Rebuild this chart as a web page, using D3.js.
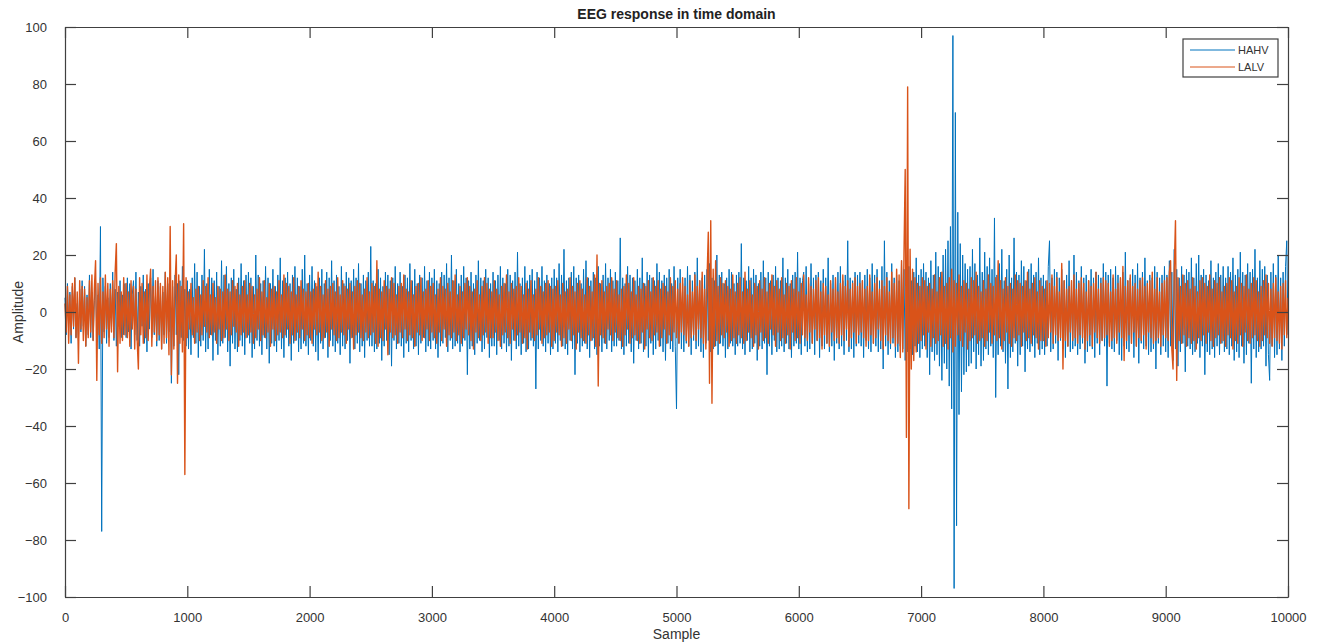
<!DOCTYPE html>
<html lang="en">
<head>
<meta charset="UTF-8">
<title>EEG response in time domain</title>
<script src="https://d3js.org/d3.v7.min.js"></script>
<style>
  body { margin: 0; background: #fff; }
  svg text { font-family: "Liberation Sans", Arial, sans-serif; fill: #333; }
</style>
</head>
<body>
<svg width="1320" height="644"></svg>
<script>
// one value every 10 samples (rows of 500 samples)
const sampleStep = 10

const hahv = [
  5, -8, 10, -4, 7, -11, 9, -6, 12, -9, 3, -10, 8, -7, 11, -5, 9, -12, 6, -8, 13, -9, 7, -10, 4, 11, -8, 6, -13, 30, -77, 12, -7, 9, -11, 5, -9, 10, -6, 14, -10, 8, -12, 7, -5, 11, -9, 6, -8, 10,
  -9, 12, -7, 10, -13, 6, 11, -8, 14, -10, 7, -12, 9, -5, 13, -11, 8, -14, 10, -6, 12, -9, 15, -8, 6, -12, 11, -10, 9, -13, 7, -8, 14, -11, 10, -7, 12, -25, 9, -12, 13, -8, 10, -22, 11, -9, 16, -10, 8, -12,
  11, -13, 8, -15, 12, -9, 17, -11, 14, -16, 9, -12, 13, -10, 22, -14, 10, -13, 15, -8, 12, -17, 11, -10, 14, -15, 9, -12, 18, -11, 13, -9, 16, -14, 10, -19, 12, -11, 15, -13, 8, -14, 12, -10, 17, -12, 11, -15, 13, -9,
  14, -11, 12, -16, 9, -13, 20, -10, 13, -12, 10, -15, 11, -9, 16, -13, 12, -18, 10, -11, 15, -12, 9, -14, 13, -10, 19, -13, 11, -16, 12, -9, 14, -12, 10, -17, 13, -11, 16, -10, 12, -14, 9, -13, 15, -11, 20, -12, 10, -15,
  13, -10, 16, -12, 11, -14, 9, -17, 12, -11, 15, -13, 10, -9, 14, -16, 12, -10, 18, -12, 11, -14, 13, -11, 9, -15, 16, -12, 10, -13, 14, -10, 12, -18, 11, -9, 15, -13, 12, -11, 17, -14, 10, -12, 13, -16, 11, -10, 14, -12,
  23, -12, 11, -14, 10, -13, 15, -11, 12, -17, 9, -12, 14, -10, 13, -15, 11, -19, 12, -10, 16, -13, 10, -11, 14, -12, 9, -16, 13, -11, 12, -14, 17, -10, 11, -13, 15, -12, 10, -15, 13, -11, 12, -9, 16, -14, 11, -12, 14, -13,
  12, -10, 15, -13, 11, -16, 10, -12, 14, -11, 13, -9, 17, -14, 12, -10, 20, -13, 11, -12, 15, -11, 10, -14, 13, -12, 16, -10, 12, -22, 11, -13, 14, -12, 10, -15, 13, -11, 18, -10, 12, -14, 11, -13, 15, -9, 12, -16, 10, -12,
  14, -12, 11, -15, 13, -10, 16, -13, 12, -11, 10, -14, 15, -12, 13, -17, 11, -10, 14, -13, 21, -12, 10, -15, 12, -11, 16, -14, 11, -13, 13, -10, 15, -12, 11, -27, 14, -13, 12, -10, 16, -12, 11, -14, 13, -11, 10, -15, 12, -13,
  15, -11, 12, -14, 17, -10, 13, -12, 22, -13, 11, -15, 12, -10, 14, -13, 16, -22, 12, -11, 13, -14, 10, -12, 15, -11, 18, -13, 12, -16, 11, -10, 14, -13, 12, -15, 16, -12, 10, -14, 13, -11, 17, -13, 12, -10, 15, -14, 11, -12,
  14, -12, 11, -10, 26, -13, 12, -15, 10, -12, 16, -11, 13, -14, 12, -18, 11, -10, 15, -13, 12, -11, 19, -14, 10, -12, 14, -16, 13, -11, 12, -15, 11, -13, 17, -10, 14, -12, 11, -14, 13, -17, 12, -11, 15, -13, 10, -14, 16, -12,
  -34, 12, -11, 15, -13, 10, -14, 12, -11, 16, -12, 13, -15, 11, -10, 14, -13, 19, -12, 11, -14, 12, -16, 13, -11, 15, -10, 17, -14, 12, -13, 11, -12, 20, -15, 13, -11, 14, -12, 10, -16, 12, -13, 15, -11, 14, -12, 10, -15, 13,
  -12, 14, -11, 24, -13, 12, -15, 11, -10, 16, -14, 12, -13, 15, -11, 13, -17, 10, -12, 14, -13, 18, -11, 12, -22, 14, -12, 11, -15, 13, -10, 16, -14, 12, -13, 11, -12, 19, -14, 12, -11, 15, -13, 10, -16, 13, -12, 14, -11, 21,
  -13, 12, -15, 11, 14, -12, 16, -14, 10, -13, 17, -11, 12, -15, 13, -10, 14, -16, 11, -12, 15, -13, 12, -11, 19, -14, 10, -12, 13, -17, 12, -11, 14, -13, 16, -12, 11, -15, 13, -10, 25, -14, 12, -13, 11, -16, 14, -12, 13, -11,
  14, -12, 11, -16, 13, -10, 15, -13, 12, -14, 17, -11, 13, -12, 15, -14, 11, -13, 16, -20, 25, -12, 14, -15, 11, -13, 17, -11, 12, -16, 13, -14, 11, -12, 18, -13, 15, -17, 12, -14, 16, -13, 11, -15, 14, -12, 19, -14, 13, -16,
  15, -13, 17, -12, 14, -16, 12, -22, 18, -14, 13, -17, 21, -15, 16, -19, 14, -24, 20, -18, 22, -20, 25, -26, 30, -34, 97, -97, 70, -75, 35, -36, 24, -28, 20, -22, 17, -21, 15, -19, 16, -18, 22, -14, 17, -20, 13, -15, 26, -19,
  14, -17, 21, -13, 16, -15, 19, -12, 15, -16, 33, -30, 13, -15, 17, -12, 22, -14, 11, -18, 15, -27, 20, -16, 12, -14, 26, -11, 14, -19, 13, -15, 18, -12, 16, -21, 11, -13, 15, -14, 17, -12, 13, -16, 14, -11, 19, -15, 12, -13,
  13, -15, 11, -12, 16, 25, -14, 12, -13, 15, -11, 14, -17, 12, -10, 15, -13, 11, -16, 13, -12, 18, -14, 11, -13, 20, -12, 14, -15, 11, -13, 16, -11, 12, -18, 13, -14, 11, -12, 15, -13, 12, -16, 14, -11, 13, -15, 12, -10, 17,
  -12, 14, -26, 13, -11, 15, -13, 12, -14, 16, -10, 13, -15, 11, -17, 14, -12, 21, -13, 11, -14, 12, -11, 15, -16, 13, -12, 17, -18, 12, -11, 14, -13, 19, -12, 11, -15, 13, -14, 12, -13, 16, -20, 14, -11, 12, -15, 13, -12, 16,
  -14, 13, -16, 18, -12, 14, -17, 22, -13, 15, -19, 12, -14, 16, -11, 13, -21, 15, -12, 14, -13, 19, -15, 12, -14, 17, -11, 20, -16, 13, -12, 15, -22, 13, -14, 11, -15, 18, -13, 12, -16, 14, -12, 17, -15, 13, -11, 16, -14, 12,
  -13, 16, -15, 14, -12, 19, -17, 13, -14, 15, -16, 21, -12, 14, -18, 13, -15, 17, -11, 14, -25, 15, -13, 22, -16, 12, -14, 18, -13, 15, -12, 16, -19, 13, -15, -24, 14, -12, 17, -16, 13, -15, 20, -13, 12, -17, 14, -12, 16, 25,
  -8
]

const lalv = [
  3, -7, 9, -11, 6, -8, 10, -5, 12, -9, 7, -18, 11, -6, 9, -10, 8, -12, 5, -9, 11, -7, 13, -10, 8, 18, -24, 10, -8, 12, -11, 7, -9, 13, -6, 10, -12, 8, -7, 11, -9, 14, 24, -21, 9, -11, 7, -10, 12, -8,
  10, -9, 7, -12, 11, -6, 9, -13, 8, -10, -20, 12, -8, 10, -11, 7, -9, 13, -10, 8, 15, -12, 9, -7, 11, -10, 12, -8, 10, -13, 9, -11, 14, -9, 12, -15, 30, -22, 11, -13, 10, 20, -25, 13, -11, 9, -14, 31, -57, 12,
  -9, 7, -6, 10, -8, 5, -11, 8, -7, 9, -10, 6, -8, 11, -5, 9, -7, 12, -9, 6, -8, 10, -7, 5, -11, 9, -6, 8, -10, 7, -9, 13, -6, 8, -10, 7, -8, 11, -5, 9, -7, 10, -12, 6, -8, 9, -7, 11, -9, 6,
  -8, 10, -7, 9, -11, 6, -9, 8, -6, 12, -10, 7, -8, 11, -9, 5, -7, 10, -12, 8, -6, 9, -10, 7, -8, 11, -7, 6, -9, 13, -8, 10, -6, 9, -11, 7, -8, 12, -10, 6, -7, 9, -9, 11, -6, 8, -10, 7, -8, 10,
  -9, 7, -11, 8, -6, 10, -8, 14, -7, 9, -10, 6, -9, 11, -7, 8, -12, 9, -6, 10, -8, 7, -10, 12, -9, 6, -7, 11, -8, 9, -11, 8, -6, 10, -9, 7, -13, 9, -8, 11, -7, 10, -9, 6, -10, 8, -7, 12, -9, 7,
  -8, 10, -7, 9, -11, 18, -12, 8, -9, 7, -10, 11, -6, 9, -15, 8, -7, 12, -9, 10, -8, 6, -11, 9, -7, 10, -9, 13, -6, 8, -10, 7, -8, 11, -9, 6, -12, 9, -7, 10, -8, 12, -10, 7, -9, 8, -6, 11, -10, 9,
  -7, 10, -9, 6, -11, 8, -7, 12, -10, 9, -6, 8, -12, 10, -8, 7, -9, 11, -7, 13, -10, 6, -8, 9, -11, 7, -9, 10, -6, 12, -8, 9, -10, 7, -13, 8, -7, 11, -9, 6, -10, 9, -8, 12, -7, 10, -11, 8, -9, 7,
  -9, 11, -7, 8, -10, 6, -12, 9, -8, 10, -7, 13, -9, 7, -11, 10, -6, 8, -10, 9, -8, 12, -7, 9, -11, 6, -9, 10, -13, 8, -7, 11, -9, 6, -10, 8, -8, 12, -6, 9, -11, 7, -9, 10, -8, 11, -7, 9, -12, 8,
  -10, 9, -7, 11, -8, 6, -12, 10, -9, 7, -11, 8, -6, 12, -10, 9, -8, 7, -13, 10, -7, 11, -9, 8, -10, 6, -11, 12, -8, 9, -10, 7, -9, 13, -12, 20, -26, 10, -8, 11, -9, 7, -11, 9, -6, 10, -8, 12, -10, 8,
  -7, 11, -9, 6, -10, 8, -12, 9, -8, 13, -6, 10, -11, 7, -9, 12, -8, 6, -10, 9, -11, 8, -7, 10, -13, 9, -6, 11, -9, 7, -10, 12, -8, 9, -7, 11, -12, 8, -9, 10, -6, 9, -11, 7, -8, 12, -10, 9, -7, 11,
  -9, 8, -11, 10, -7, 12, -8, 9, -10, 6, -12, 11, -9, 7, -8, 13, -10, 9, -6, 11, -9, 14, -11, 8, -13, 12, 28, -25, 32, -32, 15, -12, 18, -10, 9, -11, 12, -8, 10, -9, 11, -7, 9, -12, 8, -10, 13, -9, 7, -11,
  10, -8, 12, -9, 7, -11, 14, -10, 8, -7, 11, -9, 6, -12, 10, -8, 9, -13, 11, -7, 8, -10, 12, -9, 7, -11, 10, -6, 13, -8, 9, -12, 11, -7, 8, -10, 12, -9, 6, -11, 10, -8, 9, -13, 11, -7, 8, -10, 12, -9,
  7, -11, 10, -8, 13, -9, 6, -10, 12, -7, 9, -11, 8, -6, 11, -10, 12, -9, 7, -13, 10, -8, 9, -11, 6, -12, 11, -7, 8, -10, 12, -9, 7, -11, 10, -8, 13, -10, 9, -6, 11, -12, 8, -9, 10, -7, 12, -11, 9, -8,
  10, -7, 11, -9, 8, -12, 9, -10, 13, -8, 7, -11, 10, -9, 12, -6, 8, -10, 11, -13, 9, -8, 12, -10, 7, -11, 14, -9, 10, -12, 15, -11, 13, -16, 18, -14, 20, 50, -44, 79, -69, 22, -20, 15, -17, 12, -14, 10, -11, 9,
  -10, 12, -8, 11, -13, 9, -7, 10, -12, 8, -9, 13, -11, 7, -10, 12, -8, 14, -12, 9, -11, 10, -13, 12, -9, 15, -14, 11, -12, 10, -8, 13, -10, 9, -12, 11, -7, 10, -13, 8, -10, 12, -9, 11, -8, 14, -11, 9, -10, 7,
  -9, 11, -12, 8, -10, 13, -7, 10, -11, 9, -8, 12, -10, 18, -9, 11, -13, 8, -10, 12, -7, 9, -11, 10, -12, 8, -9, 13, -10, 11, -8, 10, -12, 9, -7, 11, -10, 14, -9, 8, -11, 10, -8, 12, -9, 7, -13, 11, -10, 9,
  -10, 8, -12, 11, -9, 10, -7, 13, -11, 9, -8, 12, -10, 7, -9, 17, -20, 11, -10, 8, -12, 9, -7, 11, -10, 13, -9, 8, -11, 10, -8, 12, -9, 10, -13, 7, -10, 11, -8, 9, -12, 10, -7, 14, -9, 8, -11, 10, -10, 12,
  -9, 11, -8, 10, -12, 7, -10, 13, -9, 8, -11, 10, -7, 12, -9, 16, -17, 9, -10, 11, -8, 13, -11, 9, -7, 10, -12, 8, -9, 11, -10, 12, -8, 9, -13, 10, -7, 11, -9, 14, -11, 8, -10, 12, -9, 7, -12, 10, -8, 11,
  -9, 12, -10, 14, 18, -13, -20, 15, 32, -24, 12, -10, 9, -11, 13, -8, 10, -12, 11, -9, 8, -11, 12, -10, 9, -13, 7, -9, 11, -10, 12, -8, 10, -11, 9, -7, 13, -10, 8, -12, 11, -9, 10, -8, 12, -11, 7, -10, 9, -12,
  10, -8, 12, -9, 11, -13, 7, -10, 9, -11, 12, -8, 10, -12, 9, -7, 13, -10, 8, -11, 10, -9, 12, -8, 11, -10, 7, -12, 9, -10, 11, -8, 13, -9, 10, -11, 8, -12, 10, -9, 12, -10, 7, -11, 9, -13, 10, -8, 11, -9,
  5
]

const seriesNames = ["HAHV", "LALV"]
const seriesColors = ["#0072BD", "#D95319"]
const seriesWidths = [1.0, 1.4]
const xTicks = [0, 1000, 2000, 3000, 4000, 5000, 6000, 7000, 8000, 9000, 10000]
const yTicks = [-100, -80, -60, -40, -20, 0, 20, 40, 60, 80, 100]

const margin = { top: 27, right: 32, bottom: 47, left: 65 }
const svg = d3.select("svg")
const width = +svg.attr("width") - margin.left - margin.right
const height = +svg.attr("height") - margin.top - margin.bottom
const g = svg.append("g").attr("transform", "translate(" + margin.left + "," + margin.top + ")")

const x = d3.scaleLinear().domain([0, 10000]).range([0, width])
const y = d3.scaleLinear().domain([-100, 100]).range([height, 0])

// traces, HAHV first so LALV sits on top
const line = d3.line()
  .x((d, i) => x(i * sampleStep))
  .y(d => y(d))

const plot = g.append("g")
;[hahv, lalv].forEach((vals, k) => {
  plot.append("path")
    .datum(vals)
    .attr("d", line)
    .attr("fill", "none")
    .attr("stroke", seriesColors[k])
    .attr("stroke-width", seriesWidths[k])
    .attr("stroke-linejoin", "round")
})

// axes, ticks pointing inward on all four sides
const tick = 11
const axisColor = "#404040"
const fmt = d3.format("d")
g.append("g").attr("transform", "translate(0," + height + ")")
  .call(d3.axisBottom(x).tickValues(xTicks).tickFormat(fmt).tickSizeInner(-tick).tickSizeOuter(0).tickPadding(16))
g.append("g")
  .call(d3.axisTop(x).tickValues(xTicks).tickSizeInner(-tick).tickSizeOuter(0).tickFormat(""))
g.append("g")
  .call(d3.axisLeft(y).tickValues(yTicks).tickFormat(fmt).tickSizeInner(-tick).tickSizeOuter(0).tickPadding(18))
g.append("g").attr("transform", "translate(" + width + ",0)")
  .call(d3.axisRight(y).tickValues(yTicks).tickSizeInner(-tick).tickSizeOuter(0).tickFormat(""))

g.selectAll(".domain, .tick line").attr("stroke", axisColor).attr("stroke-width", 1.2)
g.selectAll(".tick text").attr("font-size", 13).attr("fill", "#404040")

// labels
svg.append("text")
  .attr("x", margin.left + width / 2).attr("y", 19)
  .attr("text-anchor", "middle")
  .attr("font-size", 14).attr("font-weight", "bold")
  .style("fill", "#222")
  .text("EEG response in time domain")

svg.append("text")
  .attr("x", margin.left + width / 2).attr("y", 639)
  .attr("text-anchor", "middle")
  .attr("font-size", 14)
  .text("Sample")

svg.append("text")
  .attr("transform", "translate(23," + (margin.top + height / 2) + ") rotate(-90)")
  .attr("text-anchor", "middle")
  .attr("font-size", 14)
  .text("Amplitude")

// legend
const legend = svg.append("g").attr("transform", "translate(1183,39)")
legend.append("rect")
  .attr("width", 95).attr("height", 38)
  .attr("fill", "#fff").attr("stroke", axisColor).attr("stroke-width", 1.2)
seriesNames.forEach((name, i) => {
  const ly = 11 + i * 17
  legend.append("line")
    .attr("x1", 7).attr("x2", 52).attr("y1", ly).attr("y2", ly)
    .attr("stroke", seriesColors[i]).attr("stroke-width", 1)
  legend.append("text")
    .attr("x", 55).attr("y", ly + 4)
    .attr("font-size", 11)
    .text(name)
})
</script>
</body>
</html>
